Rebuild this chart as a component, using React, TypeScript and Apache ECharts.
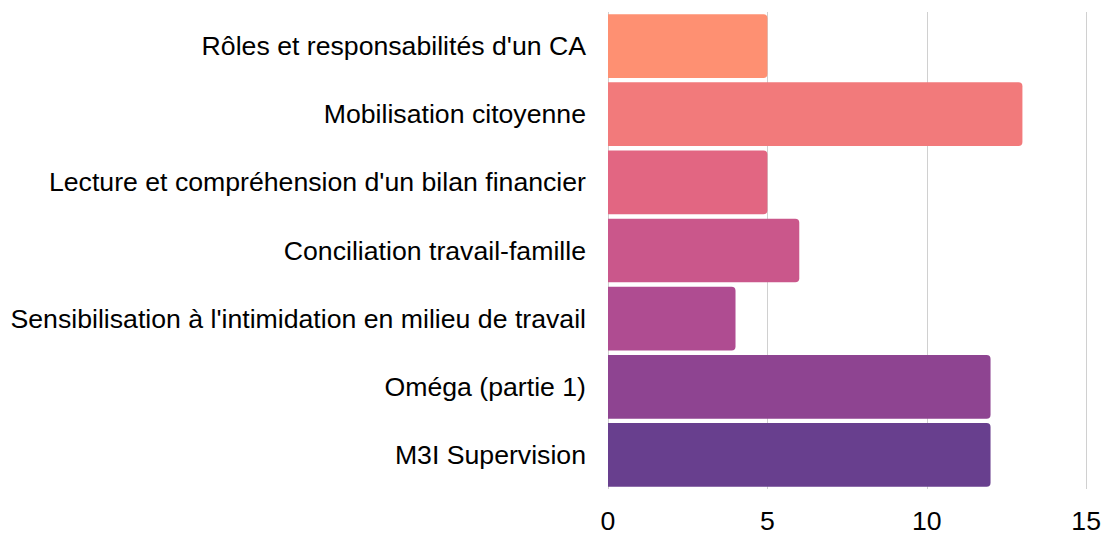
import React, { useEffect, useRef } from "react";
import * as echarts from "echarts";

const categories = [
  "Rôles et responsabilités d'un CA",
  "Mobilisation citoyenne",
  "Lecture et compréhension d'un bilan financier",
  "Conciliation travail-famille",
  "Sensibilisation à l'intimidation en milieu de travail",
  "Oméga (partie 1)",
  "M3I Supervision",
];
const values = [5, 13, 5, 6, 4, 12, 12];
const colors = ["#FE9072", "#F27A7B", "#E26682", "#CA578B", "#AF4C91", "#8E4491", "#683F8E"];
const xTicks = [0, 5, 10, 15];

export default function App() {
  const ref = useRef<HTMLDivElement>(null);
  useEffect(() => {
    if (!ref.current) return;
    document.body.style.margin = "0";
    const chart = echarts.init(ref.current, null, { renderer: "svg" });
    chart.setOption({
      animation: false,
      textStyle: { fontFamily: "Liberation Sans" },
      grid: { left: 608, right: 16, top: 12, bottom: 39, containLabel: false },
      xAxis: {
        type: "value",
        min: xTicks[0],
        max: xTicks[xTicks.length - 1],
        interval: 5,
        axisLine: { show: false },
        axisTick: { show: false },
        splitLine: { show: true, lineStyle: { color: "#d0d0d0", width: 1 } },
        axisLabel: { color: "#000", fontSize: 26.67, margin: 18 },
      },
      yAxis: {
        type: "category",
        data: categories,
        inverse: true,
        axisLine: { show: false },
        axisTick: { show: false },
        axisLabel: { color: "#000", fontSize: 26.67, margin: 22 },
      },
      series: [
        {
          type: "bar",
          barCategoryGap: "6.5%",
          data: values.map((v, i) => ({ value: v, itemStyle: { color: colors[i] } })),
          itemStyle: { borderRadius: [0, 4, 4, 0] },
        },
      ],
    });
    return () => chart.dispose();
  }, []);
  return <div ref={ref} style={{ width: 1104, height: 534 }} />;
}
